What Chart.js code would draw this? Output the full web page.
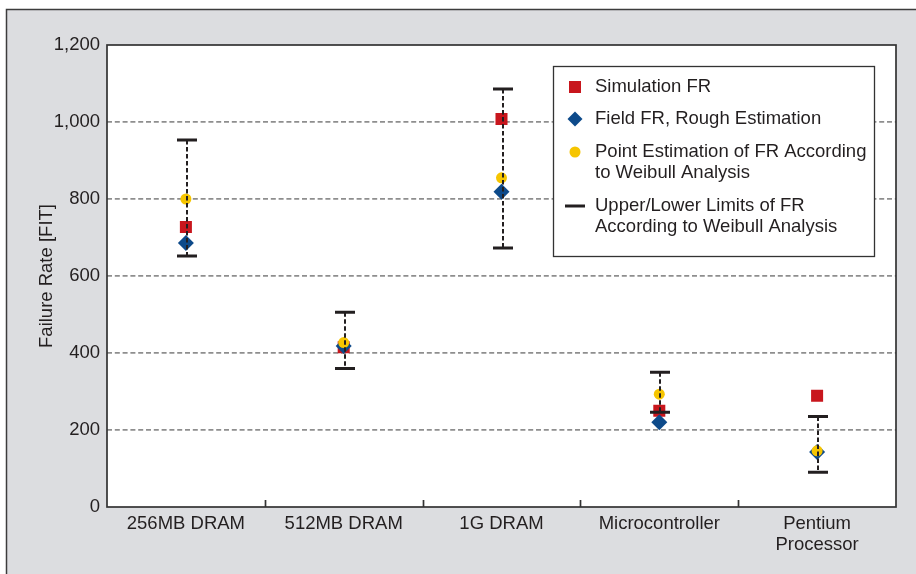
<!DOCTYPE html>
<html>
<head>
<meta charset="utf-8">
<script src="https://cdn.jsdelivr.net/npm/chart.js@4.4.1/dist/chart.umd.min.js"></script>
<style>
  html, body { margin: 0; padding: 0; background: #fff; }
  #wrap { width: 916px; height: 574px; }
</style>
</head>
<body>
<div id="wrap"><canvas id="chart" width="916" height="574"></canvas></div>
<script>
const categories = ['256MB DRAM', '512MB DRAM', '1G DRAM', 'Microcontroller', ['Pentium', 'Processor']];
const simulationFR = [727, 415, 1008, 250, 289];
const fieldFR = [686, 418, 819, 220, 143];
const weibullPoint = [800, 427, 855, 293, 146];
const weibullUpper = [953, 506, 1086, 350, 235];
const weibullLower = [652, 360, 673, 246, 90];
const yTicks = [0, 200, 400, 600, 800, 1000, 1200];
const legendLabels = [
    ['Simulation FR'],
    ['Field FR, Rough Estimation'],
    ['Point Estimation of FR According', 'to Weibull Analysis'],
    ['Upper/Lower Limits of FR', 'According to Weibull Analysis']
];

const FONT = "'Liberation Sans', Arial, Helvetica, sans-serif";
const FSIZE = 18.5;
const INK = '#231f20';
const RED = '#c8161d';
const BLUE = '#0d4a8a';
const YELLOW = '#f6c500';

// gray frame behind everything, white plot area
const framePlugin = {
    id: 'frame',
    beforeDraw(chart) {
        const {ctx, chartArea: a} = chart;
        ctx.save();
        ctx.fillStyle = '#fff';
        ctx.fillRect(0, 0, chart.width, chart.height);
        ctx.fillStyle = '#dcdde0';
        ctx.fillRect(6, 9, chart.width, chart.height);
        ctx.strokeStyle = '#3c3c3c';
        ctx.lineWidth = 1.5;
        ctx.beginPath();
        ctx.moveTo(chart.width + 2, 9.5);
        ctx.lineTo(6.5, 9.5);
        ctx.lineTo(6.5, chart.height + 2);
        ctx.stroke();
        ctx.fillStyle = '#fff';
        ctx.fillRect(a.left, a.top, a.right - a.left, a.bottom - a.top);
        ctx.restore();
    },
    afterDatasetsDraw(chart) {
        // plot box + inward category ticks
        const {ctx, chartArea: a} = chart;
        const xs = chart.scales.x;
        ctx.save();
        ctx.strokeStyle = '#333';
        ctx.lineWidth = 1.7;
        ctx.strokeRect(a.left, a.top, a.right - a.left, a.bottom - a.top);
        ctx.beginPath();
        for (let i = 1; i < categories.length; i++) {
            const x = Math.round((xs.getPixelForValue(i - 1) + xs.getPixelForValue(i)) / 2) + 0.5;
            ctx.moveTo(x, a.bottom);
            ctx.lineTo(x, a.bottom - 7);
        }
        ctx.stroke();
        ctx.restore();
    }
};

// dashed upper/lower limit bars, drawn over the markers
const errorBarPlugin = {
    id: 'errorBars',
    afterDatasetsDraw(chart) {
        const {ctx} = chart;
        const xs = chart.scales.x, ys = chart.scales.y;
        ctx.save();
        ctx.strokeStyle = INK;
        for (let i = 0; i < categories.length; i++) {
            const x = Math.round(xs.getPixelForValue(i)) + 1;
            const yU = ys.getPixelForValue(weibullUpper[i]);
            const yL = ys.getPixelForValue(weibullLower[i]);
            ctx.lineWidth = 2;
            ctx.setLineDash([4.5, 2.5]);
            ctx.beginPath();
            ctx.moveTo(x, yU);
            ctx.lineTo(x, yL);
            ctx.stroke();
            ctx.setLineDash([]);
            ctx.lineWidth = 3;
            ctx.beginPath();
            ctx.moveTo(x - 10, yU);
            ctx.lineTo(x + 10, yU);
            ctx.moveTo(x - 10, yL);
            ctx.lineTo(x + 10, yL);
            ctx.stroke();
        }
        ctx.restore();
    }
};

const legendPlugin = {
    id: 'boxLegend',
    afterDraw(chart) {
        const {ctx} = chart;
        const box = {x: 553.5, y: 66.5, w: 321, h: 190};
        const rows = [87, 119, 152, 206];
        ctx.save();
        ctx.fillStyle = '#fff';
        ctx.fillRect(box.x, box.y, box.w, box.h);
        ctx.strokeStyle = '#333';
        ctx.lineWidth = 1.3;
        ctx.strokeRect(box.x, box.y, box.w, box.h);
        const mx = 575;
        // markers
        ctx.fillStyle = RED;
        ctx.fillRect(mx - 6, rows[0] - 6, 12, 12);
        ctx.fillStyle = BLUE;
        ctx.beginPath();
        ctx.moveTo(mx, rows[1] - 7.5);
        ctx.lineTo(mx + 7.5, rows[1]);
        ctx.lineTo(mx, rows[1] + 7.5);
        ctx.lineTo(mx - 7.5, rows[1]);
        ctx.closePath();
        ctx.fill();
        ctx.fillStyle = YELLOW;
        ctx.beginPath();
        ctx.arc(mx, rows[2], 5.5, 0, Math.PI * 2);
        ctx.fill();
        ctx.strokeStyle = INK;
        ctx.lineWidth = 3;
        ctx.beginPath();
        ctx.moveTo(mx - 10, rows[3]);
        ctx.lineTo(mx + 10, rows[3]);
        ctx.stroke();
        // texts
        ctx.fillStyle = INK;
        ctx.font = FSIZE + 'px ' + FONT;
        ctx.textBaseline = 'middle';
        ctx.textAlign = 'left';
        legendLabels.forEach((lines, i) => {
            lines.forEach((t, j) => ctx.fillText(t, 595, rows[i] + j * 21));
        });
        ctx.restore();
    }
};

const pointSet = (label, data, style, radius, color, order) => ({
    label,
    data,
    order,
    showLine: false,
    pointStyle: style,
    pointRadius: radius,
    pointHoverRadius: radius,
    pointBackgroundColor: color,
    pointBorderColor: color,
    pointBorderWidth: 0,
    borderColor: color,
    backgroundColor: color
});

const chart = new Chart(document.getElementById('chart'), {
    type: 'line',
    data: {
        labels: categories,
        datasets: [
            pointSet(legendLabels[0].join(' '), simulationFR, 'rect', 8.5, RED, 3),
            pointSet(legendLabels[1].join(' '), fieldFR, 'rectRot', 8, BLUE, 2),
            pointSet(legendLabels[2].join(' '), weibullPoint, 'circle', 5.5, YELLOW, 1)
        ]
    },
    options: {
        responsive: false,
        animation: false,
        devicePixelRatio: 1,
        layout: {padding: {top: 45, right: 20, left: 0, bottom: 0}},
        plugins: {
            legend: {display: false},
            tooltip: {enabled: false}
        },
        scales: {
            x: {
                offset: true,
                grid: {display: false, drawTicks: false},
                border: {display: false},
                ticks: {
                    color: INK,
                    padding: 6,
                    maxRotation: 0,
                    font: {family: FONT, size: FSIZE, lineHeight: 1.15}
                },
                afterFit(scale) { scale.height = 67; }
            },
            y: {
                min: 0,
                max: 1200,
                grid: {
                    drawTicks: false,
                    lineWidth: 1.8,
                    color: c => (c.tick && (c.tick.value === 0 || c.tick.value === 1200)) ? 'rgba(0,0,0,0)' : '#8e8e8e'
                },
                border: {display: false, dash: [5, 2.8]},
                ticks: {
                    color: INK,
                    padding: 7,
                    font: {family: FONT, size: FSIZE}
                },
                afterBuildTicks(scale) { scale.ticks = yTicks.map(v => ({value: v})); },
                title: {
                    display: true,
                    text: 'Failure Rate [FIT]',
                    color: INK,
                    font: {family: FONT, size: FSIZE},
                    padding: {top: 36}
                },
                afterFit(scale) { scale.width = 107; }
            }
        }
    },
    plugins: [framePlugin, errorBarPlugin, legendPlugin]
});
</script>
</body>
</html>
